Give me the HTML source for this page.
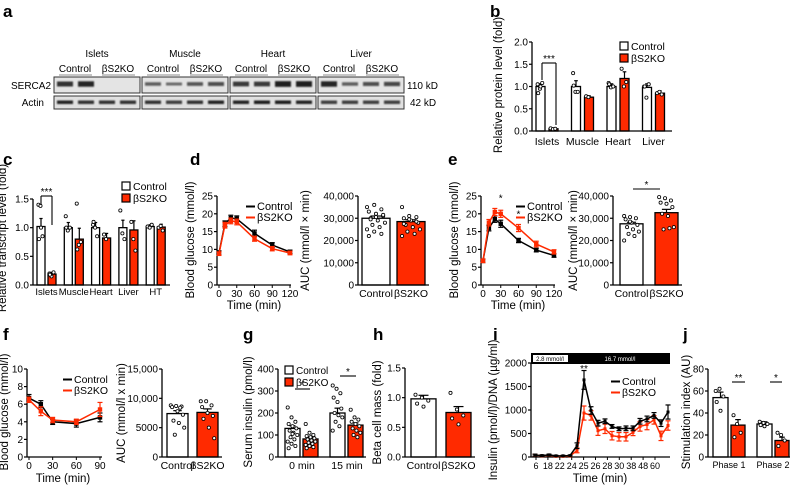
<!DOCTYPE html>
<html><head><meta charset="utf-8"><style>
html,body{margin:0;padding:0;background:#fff}
svg{display:block;font-family:"Liberation Sans",Arial,sans-serif}
</style></head><body>
<svg id="fig" width="793" height="485" viewBox="0 0 793 485" xmlns="http://www.w3.org/2000/svg">
<defs><filter id="bl" x="-20%" y="-50%" width="140%" height="200%"><feGaussianBlur stdDeviation="0.8"/></filter></defs>
<g font-weight="bold" font-size="17" fill="#000">
<text x="3" y="17">a</text>
<text x="490" y="17">b</text>
<text x="3" y="165">c</text>
<text x="190" y="165">d</text>
<text x="448" y="165">e</text>
<text x="3" y="340">f</text>
<text x="243" y="340">g</text>
<text x="373" y="340">h</text>
<text x="493" y="340">i</text>
<text x="683" y="340">j</text>
</g>
<g id="blot"></g>
<g id="charts"></g>
</svg>
<script>
// ---------- data ----------
const blotGroups=["Islets","Muscle","Heart","Liver"];
const sercaIntensity=[[0.8,0.9,0,0],[0.5,0.4,0.55,0.6],[0.75,0.75,0.95,0.95],[0.9,0.5,0.6,0.65]];
const actinIntensity=[[0.9,0.8,0.8,0.8],[0.8,0.7,0.8,0.9],[0.9,0.95,0.95,0.9],[0.7,0.7,0.7,0.7]];

const bCats=["Islets","Muscle","Heart","Liver"];
const bCtrl=[1.0,1.0,1.0,0.98];const bCtrlErr=[0.06,0.13,0.06,0.08];
const bKO=[0.05,0.76,1.18,0.85];const bKOErr=[0.02,0.03,0.15,0.05];
const bTicks=[0,0.5,1.0,1.5,2.0];const bTickLabels=["0.0","0.5","1.0","1.5","2.0"];

const cCats=["Islets","Muscle","Heart","Liver","HT"];
const cCtrl=[1.02,1.0,1.0,1.0,1.02];const cCtrlErr=[0.14,0.09,0.09,0.13,0.03];
const cKO=[0.19,0.8,0.82,0.96,1.01];const cKOErr=[0.03,0.19,0.08,0.16,0.05];
const cTicks=[0,0.5,1.0,1.5];const cTickLabels=["0.0","0.5","1.0","1.5"];

const dTime=[0,10,20,30,60,90,120];
const dCtrl=[9,17.2,18.8,18.6,14.5,11.2,9.3];const dCtrlErr=[0.6,0.8,0.8,0.8,0.9,0.7,0.5];
const dKO=[8.8,16.8,18.0,17.7,13.0,10.2,9.0];const dKOErr=[0.5,0.8,0.8,0.8,0.7,0.6,0.5];
const dAUC=[30000,28500];const dAUCErr=[1000,800];
const eCtrl=[6.8,16,18.5,17.2,12.5,9.8,8.3];const eCtrlErr=[0.5,0.8,0.9,1.0,0.6,0.5,0.5];
const eKO=[6.8,17.5,20.5,20,16,11.5,9.3];const eKOErr=[0.5,0.9,1.0,1.0,1.0,0.8,0.6];
const eAUC=[27500,32500];const eAUCErr=[700,1500];
const glucTicks=[0,5,10,15,20,25];
const timeTicks=[0,30,60,90,120];
const aucTicks=[0,10000,20000,30000,40000];const aucTickLabels=["0","10,000","20,000","30,000","40,000"];

const fTime=[0,15,30,60,90];
const fCtrl=[6.7,6.0,4.0,3.8,4.5];const fCtrlErr=[0.4,0.4,0.3,0.4,0.5];
const fKO=[6.5,5.2,4.2,4.0,5.4];const fKOErr=[0.3,0.5,0.3,0.3,0.8];
const fAUC=[7400,7600];const fAUCErr=[500,600];
const gCats=["0 min","15 min"];const gCtrl=[130,200];const gCtrlErr=[12,22];const gKO=[82,145];const gKOErr=[8,10];
const hVals=[0.98,0.75];const hErr=[0.06,0.1];
const iCtrl=[40,30,45,25,25,30,240,1640,990,720,760,650,600,610,610,760,810,885,720,957];
const iCtrlErr=[20,15,15,10,10,10,60,200,80,60,50,40,40,50,50,60,60,60,70,150];
const iKO=[40,25,40,15,15,20,140,935,885,560,600,453,430,430,525,650,690,790,450,670];
const iKOErr=[20,15,15,10,10,10,50,150,100,100,100,90,90,90,70,100,110,90,100,100];
const iTickLabels=["6","18","22","24","25","26","28","30","38","48","60"];
const jCats=["Phase 1","Phase 2"];const jCtrl=[54,30];const jCtrlErr=[5,2];const jKO=[29,15];const jKOErr=[5,3];

const dotsB=[[1.05,0.95,1.08,0.85,1.0],[0.06,0.04,0.05],[1.3,0.88,0.88,1.02],[0.78,0.76],[1.08,0.98,1.0,1.05],[1.4,1.0,1.1],[1.0,0.75,1.05,1.0],[0.85,0.88,0.82]];
const dotsC=[[1.4,1.38,0.85,0.8,1.0],[0.2,0.15,0.22,0.18],[1.2,0.95,1.0,1.0],[1.42,0.7,0.75,0.62],[1.05,1.0,0.85,1.1],[0.88,0.8],[1.3,0.9,0.8],[1.1,0.8,0.6],[1.02,1.0,1.05],[1.0,1.03,0.95]];
const dotsD=[[35000,36000,34000,33000,32000,31000,30000,29000,28000,27000,26000,25000,24000,23000,22000,30500,31500,29500],[35000,31000,30500,30000,29000,28000,27000,26000,25000,24000,23000,22000,29500,28500,27500]];
const dotsE=[[31000,30500,30000,29500,28000,27000,26000,25000,24000,23000,22000,20000,28500],[39500,39000,38000,37000,36500,35000,32000,31000,26000,25000,25500]];
const dotsF=[[8800,8700,8600,8500,7800,7200,6200,5800,5000,3800,8400],[9500,9500,8800,8500,7500,7000,6500,5000,3200]];
const dotsG=[[225,180,160,150,140,130,120,110,100,90,80,70,60,50,40,105],[150,110,100,95,90,85,80,75,70,65,60,55,50,45,40],[325,310,290,270,250,220,200,190,180,160,140,120],[215,180,170,160,150,140,130,120,110,100,90]];
const dotsH=[[1.05,1.0,0.95,0.9,0.85],[1.08,0.8,0.7,0.65,0.55]];
const dotsJ=[[60,62,55,50,42],[38,30,22,18],[32,31,30,29,28],[22,20,15,10]];

// ---------- helpers ----------
const NS="http://www.w3.org/2000/svg";
const root=document.getElementById('charts');
function el(tag,attrs,parent,txt){const e=document.createElementNS(NS,tag);for(const k in attrs)e.setAttribute(k,attrs[k]);if(txt!==undefined)e.textContent=txt;(parent||root).appendChild(e);return e;}
function grp(name){const g=el('g',{});


return g;}
function lin(d0,d1,r0,r1){return v=>r0+(v-d0)/(d1-d0)*(r1-r0);}
const RED="#ff2a00";
function yAxis(g,x,y0,y1,ticks,labels,sc){el('line',{x1:x,y1:y0,x2:x,y2:y1,stroke:'#000','stroke-width':1.3},g);
ticks.forEach((t,i)=>{const y=sc(t);el('line',{x1:x-3,y1:y,x2:x,y2:y,stroke:'#000','stroke-width':1.2},g);
const tx=el('text',{x:x-4,y:y+3.5,'font-size':10,'text-anchor':'end'},g,labels[i]);

});}
function yTitle(g,x,yc,txt){const t=el('text',{x:0,y:0,'font-size':11.5,'text-anchor':'middle',transform:`translate(${x},${yc}) rotate(-90)`},g,txt);

}
function xText(g,x,y,txt,anchor,size){const t=el('text',{x:x,y:y,'font-size':size||10,'text-anchor':anchor||'middle'},g,txt);

return t;}
function bar(g,x,w,sc,v,e,fill,dots,name){const y0=sc(0),y=sc(v);
const r=el('rect',{x:x,y:y,width:w,height:y0-y,fill:fill,stroke:'#000','stroke-width':1.3},g);


const cx=x+w/2,ye=sc(v+e);
el('line',{x1:cx,y1:y,x2:cx,y2:ye,stroke:'#000','stroke-width':1.2},g);
el('line',{x1:cx-w*0.2,y1:ye,x2:cx+w*0.2,y2:ye,stroke:'#000','stroke-width':1.2},g);
if(dots){dots.forEach((d,i)=>{const off=((i*37)%11-5)/5*(w*0.32);
el('circle',{cx:cx+off,cy:sc(d),r:1.6,fill:'#fff',stroke:'#000','stroke-width':0.8},g);});}}
function legendBox(g,x,y,labels,size){labels.forEach((l,i)=>{el('rect',{x:x,y:y+i*12,width:8,height:8,fill:i?RED:'#fff',stroke:'#000','stroke-width':1.2},g);
const t=el('text',{x:x+11,y:y+i*12+8,'font-size':size||11},g,l);

});}
function legendLine(g,x,y,labels,size){labels.forEach((l,i)=>{el('line',{x1:x,y1:y+i*11-3.5,x2:x+9,y2:y+i*11-3.5,stroke:i?RED:'#000','stroke-width':2},g);
const t=el('text',{x:x+11,y:y+i*11,'font-size':size||10.5},g,l);

});}
function sig(g,x1,x2,y,txt,bracket,yb1,yb2){el('line',{x1:x1,y1:y,x2:x2,y2:y,stroke:'#000','stroke-width':1.1},g);
if(bracket){el('line',{x1:x1,y1:y,x2:x1,y2:yb1,stroke:'#000','stroke-width':1.1},g);el('line',{x1:x2,y1:y,x2:x2,y2:yb2,stroke:'#000','stroke-width':1.1},g);}
el('text',{x:(x1+x2)/2,y:y-1,'font-size':10,'text-anchor':'middle'},g,txt);}
function series(g,xs,ys,errs,xsc,ysc,col,mk,name){const pts=xs.map((t,i)=>[xsc(t),ysc(ys[i])]);
const p=el('polyline',{points:pts.map(p=>p.join(',')).join(' '),fill:'none',stroke:col,'stroke-width':1.5},g);


pts.forEach((q,i)=>{const a=ysc(ys[i]+errs[i]),b=ysc(ys[i]-errs[i]);
el('line',{x1:q[0],y1:a,x2:q[0],y2:b,stroke:col,'stroke-width':1.2},g);
el('line',{x1:q[0]-2.5,y1:a,x2:q[0]+2.5,y2:a,stroke:col,'stroke-width':1.2},g);
el('line',{x1:q[0]-2.5,y1:b,x2:q[0]+2.5,y2:b,stroke:col,'stroke-width':1.2},g);
el('rect',{x:q[0]-mk,y:q[1]-mk,width:mk*2,height:mk*2,fill:col},g);});}

// ---------- a: blot ----------
(function(){const g=document.getElementById('blot');
const bx=[54,142,230,318];
bx.forEach((x,k)=>{
el('rect',{x:x,y:77,width:86,height:16,fill:'#e4e4e4',stroke:'#333','stroke-width':1},g);
el('rect',{x:x,y:96,width:86,height:13,fill:'#e0e0e0',stroke:'#333','stroke-width':1},g);
const gl=el('text',{x:x+43,y:57,'font-size':10,'text-anchor':'middle'},g,blotGroups[k]);


el('text',{x:x+21,y:72,'font-size':10,'text-anchor':'middle'},g,'Control');
el('text',{x:x+64,y:72,'font-size':10,'text-anchor':'middle'},g,'βS2KO');
el('line',{x1:x+5,y1:75,x2:x+38,y2:75,stroke:'#666','stroke-width':0.8},g);
el('line',{x1:x+48,y1:75,x2:x+81,y2:75,stroke:'#666','stroke-width':0.8},g);
for(let i=0;i<4;i++){const cx=x+11+i*21;
const s=sercaIntensity[k][i];if(s>0){const b=el('rect',{x:cx-8,y:83.5-s*2.5,width:16,height:s*5+1,fill:'#111',opacity:0.3+s*0.65,filter:'url(#bl)'},g);

}
const a=actinIntensity[k][i];const b2=el('rect',{x:cx-8,y:100.5,width:16,height:3.5,fill:'#111',opacity:0.3+a*0.65,filter:'url(#bl)'},g);

}});
el('text',{x:51,y:89,'font-size':10,'text-anchor':'end'},g,'SERCA2');
el('text',{x:44,y:106,'font-size':10,'text-anchor':'end'},g,'Actin');
el('text',{x:407,y:89,'font-size':10},g,'110 kD');
el('text',{x:410,y:106,'font-size':10},g,'42 kD');})();

// ---------- b ----------
(function(){const g=grp('panel-b-protein-chart');const sc=lin(0,2,131,42);
bCats.forEach((c,i)=>{const gx=536+i*35.5;
bar(g,gx,9,sc,bCtrl[i],bCtrlErr[i],'#fff',dotsB[i*2],'bar-control');
bar(g,gx+13,9,sc,bKO[i],bKOErr[i],RED,dotsB[i*2+1],'bar-ko');
xText(g,gx+11,145,c,'middle',10.5);});
el('line',{x1:532,y1:131,x2:672,y2:131,stroke:'#000','stroke-width':1.3},g);
yAxis(g,532,131,42,bTicks,bTickLabels,sc);
yTitle(g,502,85,'Relative protein level (fold)');
sig(g,542,556,63,'***',true,80,125);
legendBox(g,620,42,['Control','βS2KO'],10.5);})();

// ---------- c ----------
(function(){const g=grp('panel-c-transcript-chart');const sc=lin(0,1.5,285,199);
cCats.forEach((c,i)=>{const gx=37+i*27.3;
bar(g,gx,8,sc,cCtrl[i],cCtrlErr[i],'#fff',dotsC[i*2],'bar-control');
bar(g,gx+11,8,sc,cKO[i],cKOErr[i],RED,dotsC[i*2+1],'bar-ko');
xText(g,gx+9.5,295,c,'middle',9.5);});
el('line',{x1:33,y1:285,x2:170,y2:285,stroke:'#000','stroke-width':1.3},g);
yAxis(g,33,285,199,cTicks,cTickLabels,sc);
yTitle(g,6,238,'Relative transcript level (fold)');
sig(g,41,52,196,'***',true,205,225);
legendBox(g,122,182,['Control','βS2KO'],10.5);})();

// ---------- line panels d/e ----------
function gtt(name,ax,ctrl,ce,ko,ke,legX,stars){const g=grp(name);const ys=lin(0,25,285,196),xs=lin(0,120,ax+2,ax+73);
el('line',{x1:ax,y1:285,x2:ax+74,y2:285,stroke:'#000','stroke-width':1.3},g);
timeTicks.forEach(t=>{el('line',{x1:xs(t),y1:285,x2:xs(t),y2:288,stroke:'#000'},g);xText(g,xs(t),297,String(t),'middle',10);});
yAxis(g,ax,285,196,glucTicks,glucTicks.map(String),ys);
series(g,dTime,ctrl,ce,xs,ys,'#000',2.2,'line-control');
series(g,dTime,ko,ke,xs,ys,RED,2.2,'line-ko');
yTitle(g,ax-23,240,'Blood glucose (mmol/l)');
el('text',{x:ax+37,y:309,'font-size':11.5,'text-anchor':'middle'},g,'Time (min)');
legendLine(g,legX,210,['Control','βS2KO'],11);
stars.forEach(s=>el('text',{x:xs(s[0]),y:ys(s[1]),'font-size':10,'text-anchor':'middle'},g,'*'));}
gtt('panel-d-gtt-chart',217,dCtrl,dCtrlErr,dKO,dKOErr,246,[]);
gtt('panel-e-gtt-chart',481,eCtrl,eCtrlErr,eKO,eKOErr,516,[[30,23.5],[60,19]]);

function aucPanel(name,ax,bx,bw,gap,vals,errs,dots,max,ticks,labels,top,bottom,title,tx){const g=grp(name);const sc=lin(0,max,bottom,top);
bar(g,bx,bw,sc,vals[0],errs[0],'#fff',dots[0],'bar-control');
bar(g,bx+bw+gap,bw,sc,vals[1],errs[1],RED,dots[1],'bar-ko');
el('line',{x1:ax,y1:bottom,x2:bx+2*bw+gap+4,y2:bottom,stroke:'#000','stroke-width':1.3},g);
yAxis(g,ax,bottom,top,ticks,labels,sc);
xText(g,bx+bw/2,bottom+12,'Control','middle',10.5);xText(g,bx+bw*1.5+gap,bottom+12,'βS2KO','middle',10.5);
yTitle(g,tx,(top+bottom)/2,title);return g;}
aucPanel('panel-d-auc-chart',358,362,28,7,dAUC,dAUCErr,dotsD,40000,aucTicks,aucTickLabels,196,285,'AUC (mmol/l × min)',309);
const ge=aucPanel('panel-e-auc-chart',613,620,23,12,eAUC,eAUCErr,dotsE,40000,aucTicks,aucTickLabels,196,285,'AUC (mmol/l × min)',577);
sig(ge,633,660,189,'*',false);

// ---------- f ----------
(function(){const g=grp('panel-f-itt-chart');const ys=lin(0,10,457,369),xs=lin(0,90,29,100);
el('line',{x1:27,y1:457,x2:102,y2:457,stroke:'#000','stroke-width':1.3},g);
[0,30,60,90].forEach(t=>{el('line',{x1:xs(t),y1:457,x2:xs(t),y2:460,stroke:'#000'},g);xText(g,xs(t),469,String(t),'middle',10);});
yAxis(g,27,457,369,[0,2,4,6,8,10],["0","2","4","6","8","10"],ys);
series(g,fTime,fCtrl,fCtrlErr,xs,ys,'#000',2.2,'line-control');
series(g,fTime,fKO,fKOErr,xs,ys,RED,2.2,'line-ko');
yTitle(g,8,412,'Blood glucose (mmol/l)');
el('text',{x:63,y:482,'font-size':11.5,'text-anchor':'middle'},g,'Time (min)');
legendLine(g,63,383,['Control','βS2KO'],10.5);})();
aucPanel('panel-f-auc-chart',162,167,21,9,fAUC,fAUCErr,dotsF,15000,[0,5000,10000,15000],["0","5000","10,000","15,000"],369,457,'AUC (mmol/l x min)',125);

// ---------- g ----------
(function(){const g=grp('panel-g-insulin-chart');const sc=lin(0,400,457,369);
gCats.forEach((c,i)=>{const gx=285+i*45;
bar(g,gx,15,sc,gCtrl[i],gCtrlErr[i],'#fff',dotsG[i*2],'bar-control');
bar(g,gx+18,15,sc,gKO[i],gKOErr[i],RED,dotsG[i*2+1],'bar-ko');
xText(g,gx+17,469,c,'middle',10.5);});
el('line',{x1:278,y1:457,x2:366,y2:457,stroke:'#000','stroke-width':1.3},g);
yAxis(g,278,457,369,[0,100,200,300,400],["0","100","200","300","400"],sc);
yTitle(g,252,412,'Serum insulin (pmol/l)');
sig(g,295,310,389,'*',false);sig(g,340,356,376,'*',false);
legendBox(g,285,366,['Control','βS2KO'],10);})();

// ---------- h ----------
aucPanel('panel-h-beta-cell-chart',405,411,25,10,hVals,hErr,dotsH,1.5,[0,0.5,1.0,1.5],["0.0","0.5","1.0","1.5"],368,457,'Beta cell mass (fold)',381);

// ---------- i ----------
(function(){const g=grp('panel-i-perifusion-chart');const ys=lin(0,2000,457,363);
const xs=lin(0,iCtrl.length-1,535,668);const idx=iCtrl.map((_,k)=>k);
el('rect',{x:531,y:353,width:139,height:11,fill:'#000'},g);
el('rect',{x:533,y:355,width:35,height:7,fill:'#fff'},g);
el('text',{x:550,y:361,'font-size':6,'text-anchor':'middle'},g,'2.8 mmol/l');
el('text',{x:620,y:361,'font-size':6,'text-anchor':'middle',fill:'#fff'},g,'16.7 mmol/l');
el('line',{x1:531,y1:457,x2:670,y2:457,stroke:'#000','stroke-width':1.3},g);
const lx=lin(0,iTickLabels.length-1,536,655);
iTickLabels.forEach((l,k)=>{const x=lx(k);el('line',{x1:x,y1:457,x2:x,y2:460,stroke:'#000'},g);xText(g,x,469,l,'middle',9);});
yAxis(g,531,457,363,[0,500,1000,1500,2000],["0","500","1000","1500","2000"],ys);
series(g,idx,iKO,iKOErr,xs,ys,RED,1.5,'line-ko');
series(g,idx,iCtrl,iCtrlErr,xs,ys,'#000',1.5,'line-control');
el('text',{x:xs(7),y:372,'font-size':10,'text-anchor':'middle'},g,'**');
yTitle(g,497,410,'Insulin (pmol/l)/DNA (µg/ml)');
el('text',{x:600,y:482,'font-size':11.5,'text-anchor':'middle'},g,'Time (min)');
legendLine(g,611,385,['Control','βS2KO'],10.5);})();

// ---------- j ----------
(function(){const g=grp('panel-j-stimulation-chart');const sc=lin(0,80,457,369);
jCats.forEach((c,i)=>{const gx=713+i*44;
bar(g,gx,15,sc,jCtrl[i],jCtrlErr[i],'#fff',dotsJ[i*2],'bar-control');
bar(g,gx+18,14,sc,jKO[i],jKOErr[i],RED,dotsJ[i*2+1],'bar-ko');
xText(g,gx+16,468,c,'middle',9);});
el('line',{x1:708,y1:457,x2:790,y2:457,stroke:'#000','stroke-width':1.3},g);
yAxis(g,708,457,369,[0,20,40,60,80],["0","20","40","60","80"],sc);
yTitle(g,690,412,'Stimulation index (AU)');
sig(g,732,745,382,'**',false);sig(g,770,782,382,'*',false);})();
</script>
</body></html>
